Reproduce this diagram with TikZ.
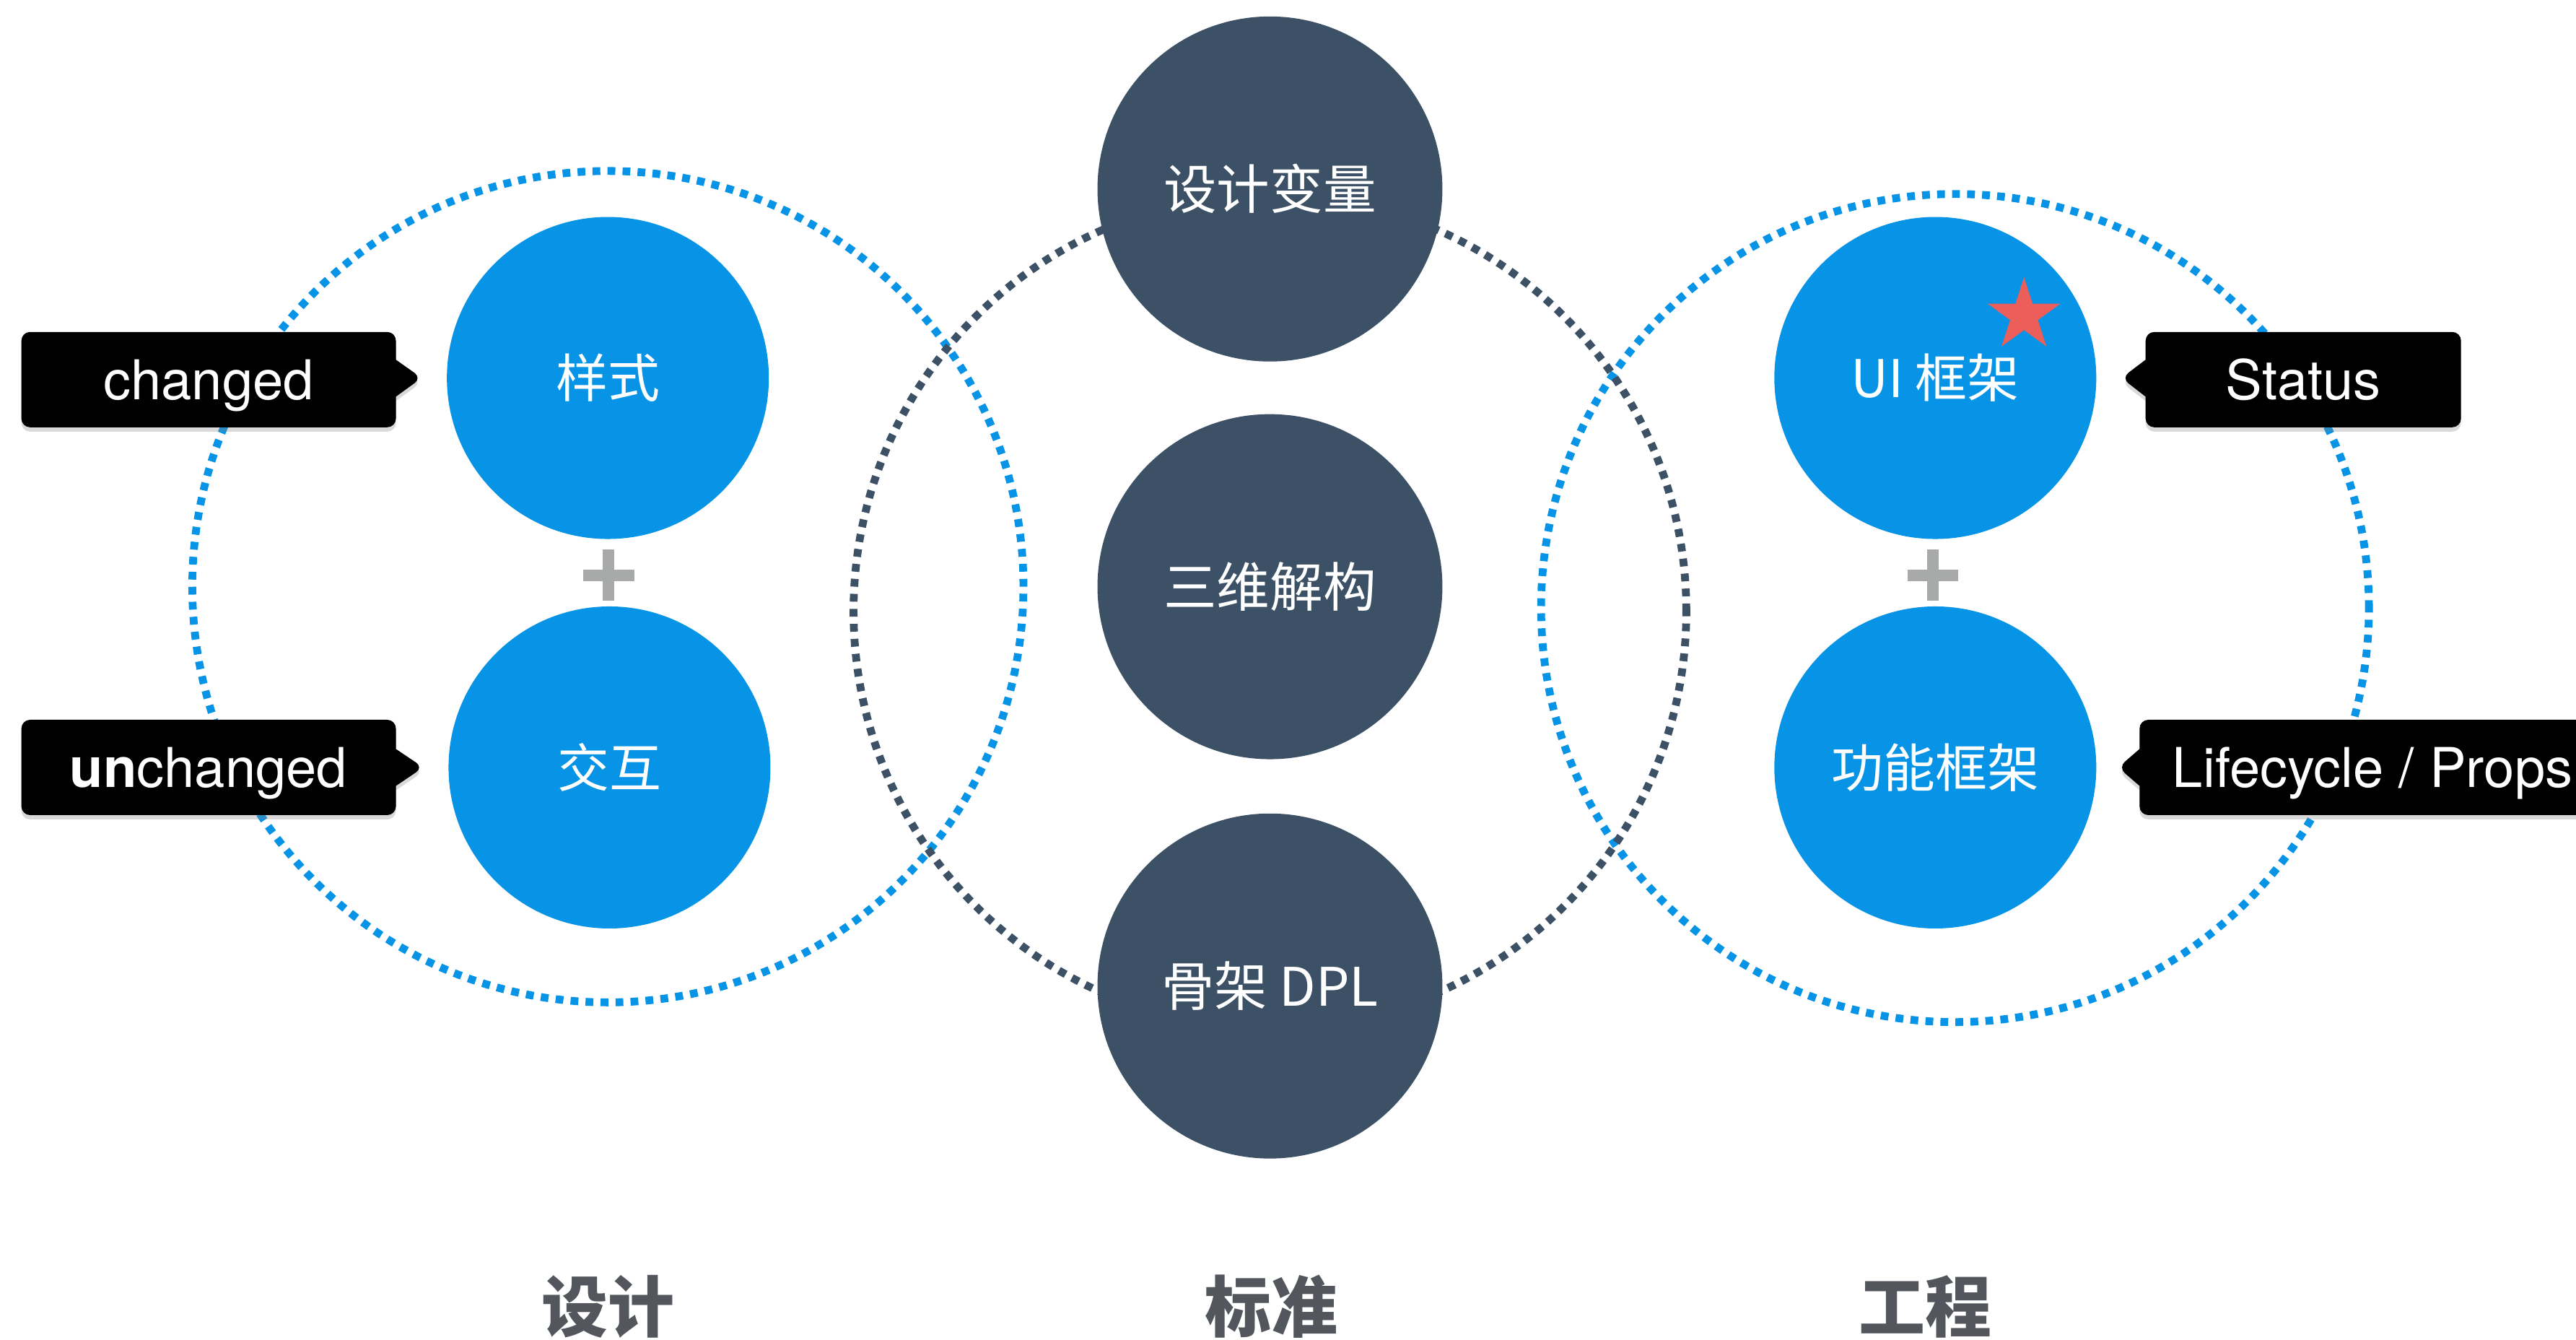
\documentclass[tikz,border=0pt]{standalone}
\usepackage{fontspec}
\setmainfont{Noto Sans CJK SC}
\newfontfamily\heros{TeX Gyre Heros}
\usetikzlibrary{shapes.geometric,shapes.callouts,shadows}
\definecolor{bleu}{HTML}{0894E6}
\definecolor{ardoise}{HTML}{3D5166}
\definecolor{rouge}{HTML}{EB5E5A}
\definecolor{gris}{HTML}{A8AAAA}
\definecolor{grisfonce}{HTML}{53575D}
\tikzset{
  disquebleu/.style={circle, fill=bleu, text=white, minimum size=3.92cm, inner sep=0pt, font=\fontsize{18}{20}\selectfont},
  disquesombre/.style={circle, fill=ardoise, text=white, minimum size=4.2cm, inner sep=0pt, font=\fontsize{18.4}{20}\selectfont},
  anneau/.style={line width=2.7pt, dash pattern=on 2.7pt off 2.5pt},
  etiquette/.style={rectangle callout, fill=black, text=white, rounded corners=3pt, minimum height=1.16cm, inner xsep=0.4cm, text height=13.7pt, text depth=0pt, callout pointer width=0.45cm, font=\heros\fontsize{19}{22}\selectfont, drop shadow={shadow xshift=0pt, shadow yshift=-1.5pt, opacity=0.3}},
  titre/.style={text=grisfonce, font=\bfseries\fontsize{23}{26}\selectfont}
}

\begin{document}
\begin{tikzpicture}[x=0.02cm, y=-0.02cm]
\useasboundingbox (0,0) rectangle (1568,815);

%cercles pointilles
\draw[anneau, bleu] (370,357) circle[radius=5.06cm];
\draw[anneau, bleu] (1190,370) circle[radius=5.04cm];
\draw[anneau, ardoise] (773,372) circle[radius=5.07cm];

%disques
\node[disquebleu] (sty) at (370,230) {样式};
\node[disquebleu] (inter) at (371,467) {交互};
\node[disquebleu] (ui) at (1178,230) {UI 框架};
\node[disquebleu] (fonc) at (1178,467) {功能框架};
\node[disquesombre] (var) at (773,115) {设计变量};
\node[disquesombre] (dec) at (773,357) {三维解构};
\node[disquesombre] (dpl) at (773,600) {骨架 DPL};

%signes plus
\foreach \x in {370.5,1176.5}
  \draw[gris, line width=0.14cm] (\x,334.5) -- (\x,365.5) (\x-15.5,350) -- (\x+15.5,350);

\node[star, star points=5, star point ratio=2.618, fill=rouge, minimum size=0.93cm, inner sep=0pt] (etoile) at (1232,192) {};

%bulles
\node[etiquette, minimum width=4.56cm, callout absolute pointer={([xshift=-0.3cm]sty.west)}] (chg) at (127,231) {changed};
\node[etiquette, minimum width=4.56cm, callout absolute pointer={([xshift=-0.3cm]inter.west)}] (unchg) at (127,467) {\textbf{un}changed};
\node[etiquette, minimum width=3.84cm, callout absolute pointer={([xshift=0.3cm]ui.east)}] (stat) at (1402,231) {Status};
\node[etiquette, anchor=west, callout absolute pointer={([xshift=0.26cm]fonc.east)}] (cycle) at (1302,467) {Lifecycle / Props};

\node[titre] (design) at (370,795) {设计};
\node[titre] (norme) at (774,795) {标准};
\node[titre] (genie) at (1172,795) {工程};
\end{tikzpicture}
\end{document}
